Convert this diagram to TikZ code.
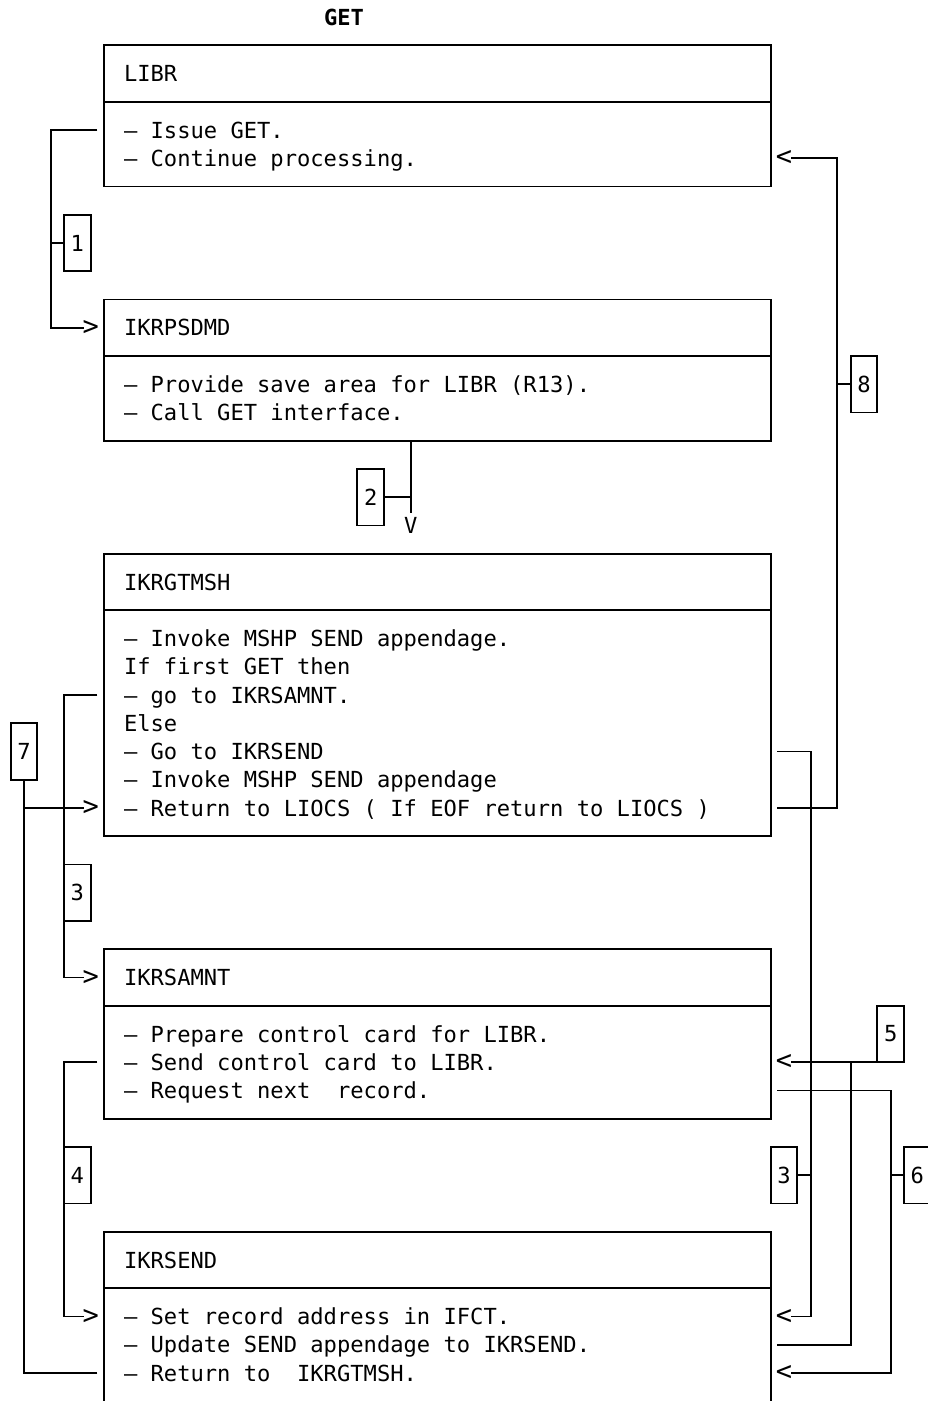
\documentclass[tikz,border=0pt]{standalone}
\usepackage{fontspec}
\newfontfamily\mono{DejaVu Sans Mono}
\newcommand\dsize{\fontsize{11.06pt}{14.125pt}\selectfont}
\newcommand\asize{\fontsize{13.5pt}{14.125pt}\selectfont}
\begin{document}
\begin{tikzpicture}[x=0.5pt,y=-0.5pt,
  declare function={gx(\c)=104+(\c-8)*13.33333; gy(\r)=17+28.25*\r;},
  every node/.style={inner sep=0pt,outer sep=0pt},
  ln/.style={line width=0.9pt},
  procbox/.style={draw,line width=0.9pt,rectangle,anchor=north west,minimum width=333.3333pt},
  numbox/.style={draw,line width=0.9pt,rectangle,minimum width=13.3333pt,minimum height=28.25pt,font=\mono\dsize},
  txt/.style={anchor=base west,font=\mono\dsize},
  chr/.style={anchor=center,font=\mono\asize},
  vchr/.style={anchor=center,font=\mono\dsize}]
\useasboundingbox (0,0) rectangle (927,1401);

% title
\node[font=\mono\dsize\bfseries] (title) at ({gx(26)},{gy(0)}) {GET};

% ---------- boxes ----------
\node[procbox,minimum height=70.625pt] (libr) at ({gx(8)},{gy(1)}) {};
\draw[ln] ({gx(8)},{gy(3)}) -- ({gx(58)},{gy(3)});
\node[procbox,minimum height=70.625pt] (psdmd) at ({gx(8)},{gy(10)}) {};
\draw[ln] ({gx(8)},{gy(12)}) -- ({gx(58)},{gy(12)});
\node[procbox,minimum height=141.25pt] (gtmsh) at ({gx(8)},{gy(19)}) {};
\draw[ln] ({gx(8)},{gy(21)}) -- ({gx(58)},{gy(21)});
\node[procbox,minimum height=84.75pt] (samnt) at ({gx(8)},{gy(33)}) {};
\draw[ln] ({gx(8)},{gy(35)}) -- ({gx(58)},{gy(35)});
\node[procbox,minimum height=100pt] (send) at ({gx(8)},{gy(43)}) {};
\draw[ln] ({gx(8)},{gy(45)}) -- ({gx(58)},{gy(45)});

% ---------- texts ----------
\node[txt] (t1) at ({gx(9.5)},{gy(2)+8.06}) {LIBR};
\node[txt] (t2) at ({gx(9.5)},{gy(4)+8.06}) {– Issue GET.};
\node[txt] (t3) at ({gx(9.5)},{gy(5)+8.06}) {– Continue processing.};
\node[txt] (t4) at ({gx(9.5)},{gy(11)+8.06}) {IKRPSDMD};
\node[txt] (t5) at ({gx(9.5)},{gy(13)+8.06}) {– Provide save area for LIBR (R13).};
\node[txt] (t6) at ({gx(9.5)},{gy(14)+8.06}) {– Call GET interface.};
\node[txt] (t7) at ({gx(9.5)},{gy(20)+8.06}) {IKRGTMSH};
\node[txt] (t8) at ({gx(9.5)},{gy(22)+8.06}) {– Invoke MSHP SEND appendage.};
\node[txt] (t9) at ({gx(9.5)},{gy(23)+8.06}) {If first GET then};
\node[txt] (t10) at ({gx(9.5)},{gy(24)+8.06}) {– go to IKRSAMNT.};
\node[txt] (t11) at ({gx(9.5)},{gy(25)+8.06}) {Else};
\node[txt] (t12) at ({gx(9.5)},{gy(26)+8.06}) {– Go to IKRSEND};
\node[txt] (t13) at ({gx(9.5)},{gy(27)+8.06}) {– Invoke MSHP SEND appendage};
\node[txt] (t14) at ({gx(9.5)},{gy(28)+8.06}) {– Return to LIOCS ( If EOF return to LIOCS )};
\node[txt] (t15) at ({gx(9.5)},{gy(34)+8.06}) {IKRSAMNT};
\node[txt] (t16) at ({gx(9.5)},{gy(36)+8.06}) {– Prepare control card for LIBR.};
\node[txt] (t17) at ({gx(9.5)},{gy(37)+8.06}) {– Send control card to LIBR.};
\node[txt] (t18) at ({gx(9.5)},{gy(38)+8.06}) {– Request next~ record.};
\node[txt] (t19) at ({gx(9.5)},{gy(44)+8.06}) {IKRSEND};
\node[txt] (t20) at ({gx(9.5)},{gy(46)+8.06}) {– Set record address in IFCT.};
\node[txt] (t21) at ({gx(9.5)},{gy(47)+8.06}) {– Update SEND appendage to IKRSEND.};
\node[txt] (t22) at ({gx(9.5)},{gy(48)+8.06}) {– Return to~ IKRGTMSH.};

% ---------- number boxes ----------
\node[numbox] (n1) at ({gx(6)},{gy(8)}) {1};
\node[numbox] (n2) at ({gx(28)},{gy(17)}) {2};
\node[numbox] (n7) at ({gx(2)},{gy(26)}) {7};
\node[numbox] (n3) at ({gx(6)},{gy(31)}) {3};
\node[numbox] (n4) at ({gx(6)},{gy(41)}) {4};
\node[numbox] (n8) at ({gx(65)},{gy(13)}) {8};
\node[numbox] (n5) at ({gx(67)},{gy(36)}) {5};
\node[numbox] (n3r) at ({gx(59)},{gy(41)}) {3};
\node[numbox] (n6) at ({gx(69)},{gy(41)}) {6};

% ---------- arrow characters ----------
\node[chr] (a1) at ({gx(7)},{gy(11)}) {>};
\node[vchr] (a2) at ({gx(31)},{gy(18)}) {V};
\node[chr] (a3) at ({gx(7)},{gy(34)}) {>};
\node[chr] (a4) at ({gx(7)},{gy(46)}) {>};
\node[chr] (a7) at ({gx(7)},{gy(28)}) {>};
\node[chr] (a8) at ({gx(59)},{gy(5)}) {<};
\node[chr] (a3r) at ({gx(59)},{gy(46)}) {<};
\node[chr] (a5) at ({gx(59)},{gy(37)}) {<};
\node[chr] (a6) at ({gx(59)},{gy(48)}) {<};

% ---------- connector start points ----------
\coordinate (s1) at ({gx(7)+6.667},{gy(4)});
\coordinate (s3) at ({gx(7)+6.667},{gy(24)});
\coordinate (s4) at ({gx(7)+6.667},{gy(37)});
\coordinate (s7) at ({gx(7)+6.667},{gy(48)});
\coordinate (s8) at ({gx(59)-6.667},{gy(28)});
\coordinate (s3r) at ({gx(59)-6.667},{gy(26)});
\coordinate (s5) at ({gx(59)-6.667},{gy(47)});
\coordinate (s6) at ({gx(59)-6.667},{gy(38)});

% ---------- connectors ----------
% 1
\draw[ln] (s1) -| ({gx(4)},{gy(11)}) -- ([xshift=0.8pt]a1.west);
\draw[ln] ({gx(4)},{gy(8)}) -- (n1.west);
% 2
\draw[ln] (a2 |- psdmd.south) -- ([yshift=2pt]a2.north);
\draw[ln] (n2.east) -- (a2 |- n2.east);
% 3 (left)
\draw[ln] (s3) -| ({gx(5)},{gy(34)}) -- ([xshift=0.8pt]a3.west);
\draw[ln] ({gx(5)},{gy(31)}) -- (n3.west);
% 4
\draw[ln] (s4) -| ({gx(5)},{gy(46)}) -- ([xshift=0.8pt]a4.west);
\draw[ln] ({gx(5)},{gy(41)}) -- (n4.west);
% 7
\draw[ln] (s7) -| (n7.south);
\draw[ln] ({gx(2)},{gy(28)}) -- ([xshift=0.8pt]a7.west);
% 8
\draw[ln] (s8) -| ({gx(63)},{gy(5)}) -- ([xshift=-0.8pt]a8.east);
\draw[ln] ({gx(63)},{gy(13)}) -- (n8.west);
% 3 (right)
\draw[ln] (s3r) -| ({gx(61)},{gy(46)}) -- ([xshift=-0.8pt]a3r.east);
\draw[ln] (n3r.east) -- ({gx(61)},{gy(41)});
% 5
\draw[ln] (s5) -| ({gx(64)},{gy(37)}) -- ([xshift=-0.8pt]a5.east);
\draw[ln] ({gx(64)},{gy(37)}) -- (n5.south west);
% 6
\draw[ln] (s6) -| ({gx(67)},{gy(48)}) -- ([xshift=-0.8pt]a6.east);
\draw[ln] ({gx(67)},{gy(41)}) -- (n6.west);
\end{tikzpicture}
\end{document}
